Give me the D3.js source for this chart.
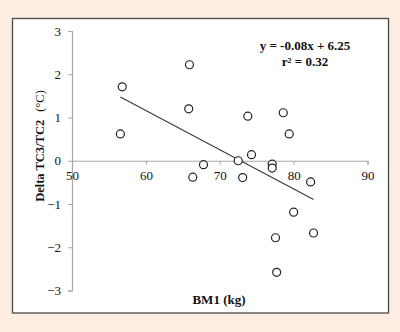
<!DOCTYPE html>
<html>
<head>
<meta charset="utf-8">
<script src="https://cdn.jsdelivr.net/npm/d3@7"></script>
<style>
  html, body { margin: 0; padding: 0; background: #fdece1; }
  svg { display: block; }
  text { font-family: "Liberation Serif", "Times New Roman", serif; fill: #111; }
</style>
</head>
<body>
<svg id="chart" width="400" height="332"></svg>
<script>
// BM1 body mass (kg) against change in core temperature TC3/TC2 (°C)
const bm1 = [56.8, 56.55, 65.9, 65.8, 73.8, 78.6, 79.4, 74.3, 72.5, 77.1, 77.1, 66.35, 67.8, 73.1, 82.3, 80.0, 82.7, 77.55, 77.7];
const deltaTC = [1.71, 0.62, 2.22, 1.20, 1.03, 1.11, 0.62, 0.14, 0.0, -0.08, -0.17, -0.38, -0.09, -0.39, -0.49, -1.19, -1.67, -1.78, -2.58];
const xTicks = [50, 60, 70, 80, 90];
const yTicks = [-3, -2, -1, 0, 1, 2, 3];
const equationLines = ["y = -0.08x + 6.25", "r\u00B2 = 0.32"];

const serif = '"Liberation Serif", "Times New Roman", serif';
const svg = d3.select("#chart");

// white plot panel with dark frame
svg.append("rect")
  .attr("x", 12.5).attr("y", 18.5)
  .attr("width", 376).attr("height", 294.5)
  .attr("fill", "#ffffff")
  .attr("stroke", "#4a4a4a")
  .attr("stroke-width", 1.3);

const x = d3.scaleLinear().domain([50, 90]).range([72, 367.5]);
const y = d3.scaleLinear().domain([-3, 3]).range([290.5, 31]);

const axisColor = "#a8a8a8";

// y axis on the left edge
const gy = svg.append("g")
  .attr("transform", `translate(${x(50)},0)`)
  .call(d3.axisLeft(y).tickValues(yTicks).tickSize(4).tickPadding(7).tickFormat(d3.format("d")));

// x axis crossing at y = 0
const gx = svg.append("g")
  .attr("transform", `translate(0,${y(0)})`)
  .call(d3.axisBottom(x).tickValues(xTicks).tickSize(4).tickPadding(6).tickFormat(d3.format("d")));

[gx, gy].forEach(g => {
  g.attr("font-family", serif).attr("font-size", 13);
  g.select(".domain").attr("stroke", axisColor).attr("stroke-width", 1.2);
  g.selectAll(".tick line").attr("stroke", axisColor).attr("stroke-width", 1);
  g.selectAll(".tick text")
    .style("font-family", serif)
    .style("font-size", "13px")
    .attr("fill", "#222");
});

// least-squares trend line across the observed BM1 range
const n = bm1.length;
const mx = d3.mean(bm1), my = d3.mean(deltaTC);
let sxy = 0, sxx = 0;
for (let i = 0; i < n; i++) {
  sxy += (bm1[i] - mx) * (deltaTC[i] - my);
  sxx += (bm1[i] - mx) * (bm1[i] - mx);
}
const slope = sxy / sxx, intercept = my - slope * mx;
const [x0, x1] = d3.extent(bm1);
svg.append("line")
  .attr("x1", x(x0)).attr("y1", y(intercept + slope * x0))
  .attr("x2", x(x1)).attr("y2", y(intercept + slope * x1))
  .attr("stroke", "#3a3a3a")
  .attr("stroke-width", 1.1);

// observations
svg.append("g").selectAll("circle")
  .data(bm1.map((v, i) => [v, deltaTC[i]]))
  .join("circle")
  .attr("cx", d => x(d[0]))
  .attr("cy", d => y(d[1]))
  .attr("r", 4)
  .attr("fill", "#ffffff")
  .attr("stroke", "#222")
  .attr("stroke-width", 1.2);

// regression equation
svg.append("g").selectAll("text")
  .data(equationLines)
  .join("text")
  .attr("x", 305)
  .attr("y", (d, i) => 50 + i * 15.5)
  .attr("text-anchor", "middle")
  .style("font-size", "13px")
  .style("font-weight", "bold")
  .text(d => d);

// axis titles
svg.append("text")
  .attr("x", 219).attr("y", 304)
  .attr("text-anchor", "middle")
  .style("font-size", "13px")
  .style("font-weight", "bold")
  .text("BM1 (kg)");

const yTitle = svg.append("text")
  .attr("transform", "translate(44,146) rotate(-90)")
  .attr("text-anchor", "middle")
  .style("font-size", "12.5px");
yTitle.append("tspan").style("font-weight", "bold").text("Delta TC3/TC2");
yTitle.append("tspan").attr("dx", 8).text("(\u00B0C)");
</script>
</body>
</html>
